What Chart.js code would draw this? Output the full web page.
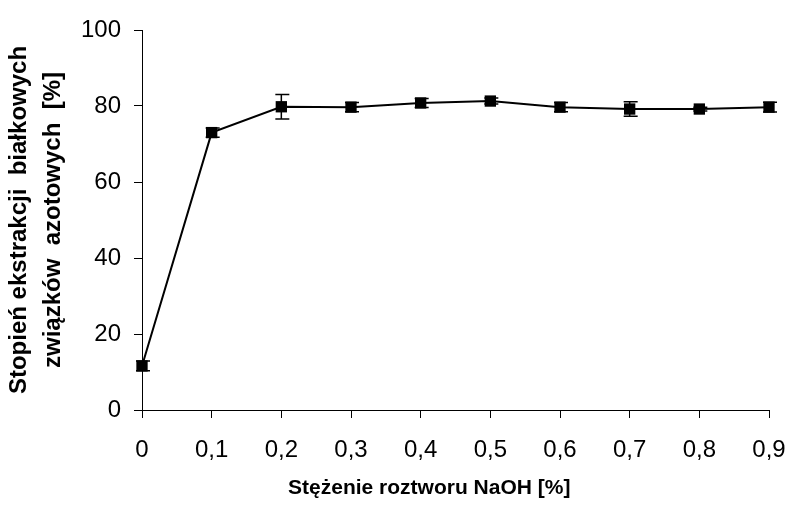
<!DOCTYPE html>
<html lang="pl">
<head>
  <meta charset="UTF-8">
  <title>Stopień ekstrakcji</title>
  <script src="https://cdn.jsdelivr.net/npm/chart.js"></script>
  <style>
    body { margin: 0; background: #fff; }
    canvas { display: block; }
  </style>
</head>
<body>
<canvas id="chart" width="787" height="514"></canvas>
<script>
// stężenie NaOH [%]
const stezenia = ['0', '0,1', '0,2', '0,3', '0,4', '0,5', '0,6', '0,7', '0,8', '0,9'];
// stopień ekstrakcji [%]
const ekstrakcja = [11.6, 73.0, 79.8, 79.7, 80.8, 81.3, 79.7, 79.2, 79.2, 79.7];
// odchylenie (słupki błędów)
const bledy = [1.3, 1.2, 3.2, 1.2, 1.2, 0.8, 1.2, 1.9, 0.5, 1.3];
const yTicks = [0, 20, 40, 60, 80, 100];

const fontFamily = '"Liberation Sans", Arial, sans-serif';

// słupki błędów rysowane przez skale wykresu
const errorBars = {
  id: 'errorBars',
  afterDatasetsDraw(chart) {
    const ctx = chart.ctx;
    const xs = chart.scales.x, ys = chart.scales.y;
    ctx.save();
    ctx.strokeStyle = '#000';
    ctx.lineWidth = 1.5;
    ekstrakcja.forEach((v, i) => {
      const x = xs.getPixelForValue(i);
      const top = ys.getPixelForValue(v + bledy[i]);
      const bot = ys.getPixelForValue(v - bledy[i]);
      ctx.beginPath();
      ctx.moveTo(x, top); ctx.lineTo(x, bot);
      ctx.moveTo(x - 6, top); ctx.lineTo(x + 8, top);
      ctx.moveTo(x - 6, bot); ctx.lineTo(x + 8, bot);
      ctx.stroke();
    });
    ctx.restore();
  }
};

new Chart(document.getElementById('chart'), {
  type: 'line',
  data: {
    labels: stezenia,
    datasets: [{
      data: ekstrakcja,
      borderColor: '#000',
      borderWidth: 2,
      backgroundColor: '#000',
      pointStyle: 'rect',
      pointRadius: 8,
      pointBackgroundColor: '#000',
      pointBorderWidth: 0,
      tension: 0
    }]
  },
  options: {
    responsive: false,
    animation: false,
    layout: { padding: { top: 30, right: 0, left: 0, bottom: 0 } },
    plugins: { legend: { display: false }, tooltip: { enabled: false } },
    scales: {
      x: {
        type: 'category',
        offset: false,
        grid: { drawOnChartArea: false, drawTicks: true, tickLength: 8, color: '#000' },
        border: { display: true, color: '#000', width: 1 },
        ticks: { color: '#000', padding: 18, maxRotation: 0, autoSkip: false,
                 font: { family: fontFamily, size: 24 } },
        title: {
          display: true,
          // spacje na końcu przesuwają tytuł w lewo, jak w oryginale
          text: 'Stężenie roztworu NaOH [%]         ',
          color: '#000',
          font: { family: fontFamily, size: 21, weight: 'bold', lineHeight: 1.2 },
          padding: { top: 4, bottom: 13 }
        },
        afterFit(scale) {
          scale.height = 104;
          scale.paddingRight = 18;
        }
      },
      y: {
        min: 0,
        max: 100,
        afterBuildTicks(scale) { scale.ticks = yTicks.map(v => ({ value: v })); },
        grid: { drawOnChartArea: false, drawTicks: true, tickLength: 8, color: '#000' },
        border: { display: true, color: '#000', width: 1 },
        ticks: { color: '#000', padding: 13, font: { family: fontFamily, size: 24 } },
        title: {
          display: true,
          text: ['Stopień ekstrakcji  białkowych', 'związków  azotowych  [%]'],
          color: '#000',
          font: { family: fontFamily, size: 24, weight: 'bold', lineHeight: 1.4 },
          padding: { top: 3, bottom: 0 }
        },
        afterFit(scale) { scale.width = 142; }
      }
    }
  },
  plugins: [errorBars]
});
</script>
</body>
</html>
